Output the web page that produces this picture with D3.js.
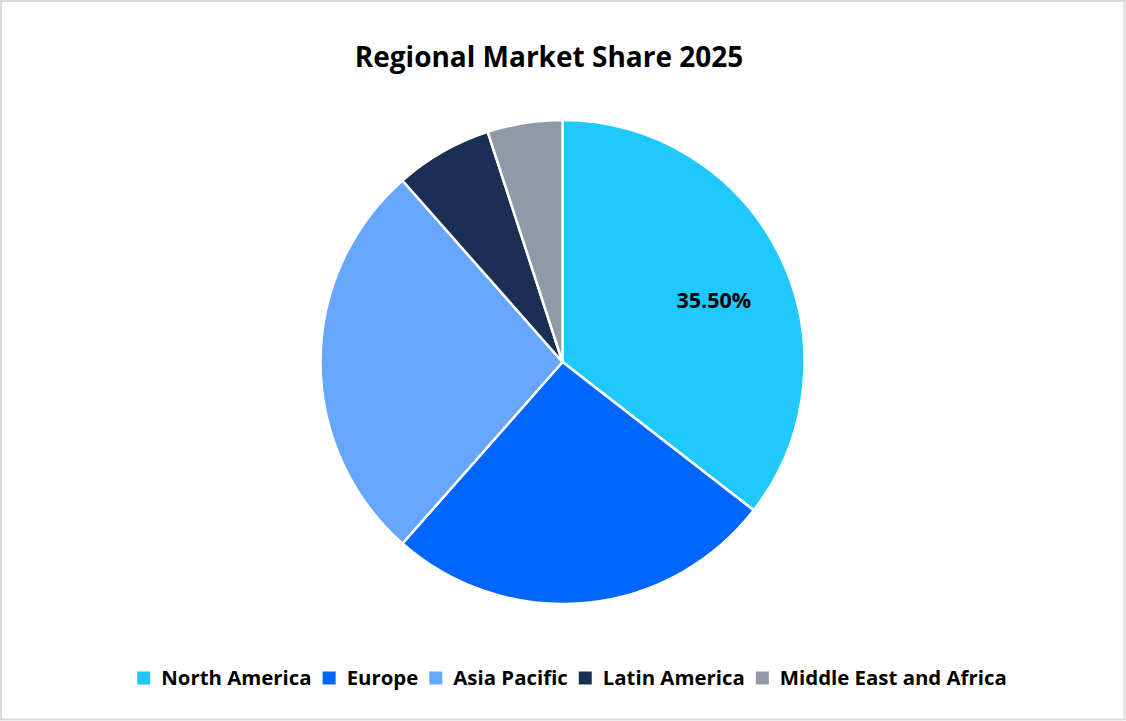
<!DOCTYPE html>
<html><head><meta charset="utf-8">
<script src="https://cdn.jsdelivr.net/npm/d3@7"></script>
<style>html,body{margin:0;padding:0;background:#fff;} svg{display:block;font-family:"Open Sans", "Noto Sans", sans-serif;}</style>
</head><body>
<svg id="chart" width="1126" height="721"></svg>
<script>
const categories = ["North America", "Europe", "Asia Pacific", "Latin America", "Middle East and Africa"];
const values = [35.5, 26.0, 27.0, 6.5, 5.0];
const colors = ["#1FC8FD", "#0066FF", "#66A6FF", "#1B2F55", "#9198A7"];
const shownLabels = [true, false, false, false, false];
const title = "Regional Market Share 2025";

const W = 1126, H = 721;
const svg = d3.select("#chart");
svg.append("rect").attr("x", 1).attr("y", 1).attr("width", W - 2.5).attr("height", H - 2.5)
  .attr("fill", "#fff").attr("stroke", "#d9d9d9").attr("stroke-width", 2);

svg.append("text").attr("x", 549).attr("y", 67).attr("text-anchor", "middle")
  .attr("font-size", 28).attr("font-weight", 700).attr("fill", "#000").text(title);

const cx = 562.5, cy = 362, R = 242;
const data = categories.map((c, i) => ({ name: c, value: values[i], color: colors[i], show: shownLabels[i] }));
const pie = d3.pie().value(d => d.value).sort(null);
const arcs = pie(data);
const arc = d3.arc().innerRadius(0).outerRadius(R);
const g = svg.append("g").attr("transform", `translate(${cx},${cy})`);
g.selectAll("path").data(arcs).join("path")
  .attr("d", arc).attr("fill", d => d.data.color)
  .attr("stroke", "#fff").attr("stroke-width", 2.5).attr("stroke-linejoin", "round");

const fmt = d3.format(".2f");
const total = d3.sum(values);
g.selectAll("text.lbl").data(arcs.filter(d => d.data.show)).join("text")
  .attr("class", "lbl")
  .attr("transform", d => {
    const a = (d.startAngle + d.endAngle) / 2 + 0.07;
    const r = 0.675 * R;
    return `translate(${r * Math.sin(a)},${-r * Math.cos(a)})`;
  })
  .attr("text-anchor", "middle").attr("dy", "0.36em")
  .attr("font-size", 21.5).attr("font-weight", 700).attr("fill", "#000")
  .text(d => fmt(d.data.value / total * 100) + "%");

// legend
const leg = svg.append("g");
const items = leg.selectAll("g").data(data).join("g");
items.append("rect").attr("width", 13).attr("height", 13).attr("y", -6.5).attr("fill", d => d.color);
items.append("text").attr("x", 24).attr("dy", "0.36em").attr("font-size", 20.4).attr("font-weight", 700)
  .attr("fill", "#000").text(d => d.name);
let x = 0;
const gap = 11;
items.each(function(d) {
  const w = 24 + this.querySelector("text").getComputedTextLength();
  d3.select(this).attr("transform", `translate(${x},0)`);
  x += w + gap;
});
const totalW = x - gap;
leg.attr("transform", `translate(${(138 + 1006) / 2 - totalW / 2},678)`);
</script>
</body></html>
